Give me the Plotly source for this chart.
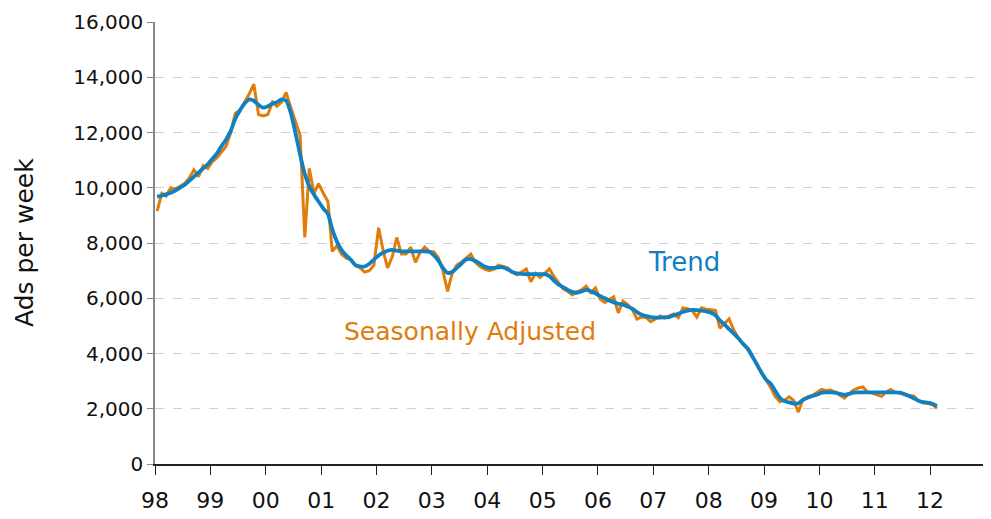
import pandas as pd
import plotly.graph_objects as go

# Monthly, Jan 1998 .. Feb 2012
seasonally_adjusted = [
    9150, 9800, 9700, 10000, 9950, 10050, 10150, 10350, 10650, 10400, 10800, 10700,
    10950, 11100, 11300, 11500, 12000, 12700, 12800, 13100, 13400, 13750, 12650, 12600,
    12650, 13100, 12950, 13100, 13450, 12900, 12400, 11900, 8200, 10700, 9800, 10150,
    9800, 9500, 7700, 7900, 7600, 7450, 7400, 7200, 7100, 6950, 7000, 7200,
    8550, 7700, 7100, 7500, 8200, 7600, 7600, 7850, 7300, 7650, 7850, 7700,
    7680, 7450, 7000, 6250, 6900, 7200, 7300, 7450, 7600, 7300, 7150, 7050,
    7000, 7050, 7200, 7150, 7100, 6950, 6850, 6950, 7060, 6600, 6900, 6750,
    6900, 7060, 6800, 6550, 6350, 6250, 6120, 6230, 6300, 6440, 6200, 6370,
    5970, 5850, 5950, 6050, 5470, 5900, 5780, 5600, 5250, 5320, 5300, 5150,
    5250, 5360, 5280, 5350, 5430, 5300, 5650, 5620, 5550, 5320, 5650, 5600,
    5570, 5560, 4920, 5100, 5250, 4850, 4560, 4350, 4150, 3870, 3600, 3300,
    3040, 2750, 2450, 2250, 2300, 2430, 2300, 1880, 2350, 2430, 2480, 2600,
    2700, 2650, 2680, 2600, 2500, 2390, 2550, 2680, 2750, 2790, 2600, 2570,
    2500, 2450, 2600, 2700, 2600, 2570, 2530, 2480, 2460, 2300, 2220, 2200,
    2150, 2030,
]

trend = [
    9680, 9720, 9760, 9820, 9900, 10000, 10100, 10250, 10400, 10550, 10700, 10850,
    11050, 11250, 11500, 11750, 12050, 12500, 12800, 13050, 13200, 13150, 13000, 12900,
    12950, 13050, 13100, 13200, 13150, 12700, 12000, 11200, 10500, 10050, 9750, 9500,
    9250, 9050, 8500, 8050, 7750, 7550, 7400, 7200, 7150, 7150, 7250, 7400,
    7550, 7650, 7720, 7750, 7720, 7700, 7700, 7700, 7700, 7700, 7700, 7680,
    7550, 7350, 7100, 6920, 6950, 7100, 7250, 7400, 7420, 7350, 7250, 7150,
    7100, 7100, 7120, 7120, 7050, 6950, 6900, 6880, 6870, 6870, 6870, 6870,
    6870, 6800, 6650, 6500, 6400, 6300, 6230, 6200, 6250, 6300, 6250, 6180,
    6080, 6000, 5920, 5850, 5800, 5770, 5700, 5620, 5500, 5400, 5350, 5320,
    5300, 5300, 5310, 5320, 5380, 5440, 5500, 5550, 5580, 5570, 5550, 5520,
    5480, 5380, 5200, 5050, 4880, 4720, 4550, 4350, 4180, 3900, 3600, 3300,
    3050, 2900, 2650, 2400, 2280, 2230, 2190, 2200, 2320, 2400, 2460, 2510,
    2580, 2590, 2590, 2580, 2540, 2500, 2540, 2580, 2590, 2590, 2590, 2590,
    2590, 2590, 2590, 2590, 2590, 2580, 2530, 2460, 2380, 2290, 2240, 2220,
    2180, 2100,
]

year_ticks = [str(y) for y in range(1998, 2013)]
year_labels = ["98", "99", "00", "01", "02", "03", "04", "05", "06", "07",
               "08", "09", "10", "11", "12"]
y_ticks = [0, 2000, 4000, 6000, 8000, 10000, 12000, 14000, 16000]
y_labels = ["0", "2,000", "4,000", "6,000", "8,000", "10,000", "12,000", "14,000", "16,000"]

dates = pd.date_range("1998-01-01", periods=len(trend), freq="MS") + pd.Timedelta(days=14)
tick_dates = [f"{y}-01-01" for y in year_ticks]

ORANGE = "#E07C0A"
BLUE = "#0F80C1"
FONT = "DejaVu Sans"

fig = go.Figure()
fig.add_trace(go.Scatter(x=dates, y=seasonally_adjusted, mode="lines",
                         line=dict(color=ORANGE, width=3), name="Seasonally Adjusted",
                         showlegend=False))
fig.add_trace(go.Scatter(x=dates, y=trend, mode="lines",
                         line=dict(color=BLUE, width=3.8, shape="spline", smoothing=0.6),
                         name="Trend", showlegend=False))

fig.add_annotation(x="2007-07-20", y=7320, text="Trend", showarrow=False,
                   font=dict(family=FONT, size=26, color=BLUE))
fig.add_annotation(x="2003-09-10", y=4780, text="Seasonally Adjusted", showarrow=False,
                   font=dict(family=FONT, size=25, color=ORANGE))
fig.add_annotation(x=0, y=0.5, xref="paper", yref="paper", xanchor="center", yanchor="middle",
                   xshift=-131, text="Ads per week", textangle=-90, showarrow=False,
                   font=dict(family=FONT, size=25, color="#111"))

# page body has an 8px margin, so the figure is sized to fit the 991x519 window
fig.update_layout(
    width=983, height=511,
    margin=dict(l=147, r=1, t=14, b=55),
    paper_bgcolor="white", plot_bgcolor="white",
    font=dict(family=FONT, size=20, color="#111"),
)

fig.update_xaxes(
    type="date", range=["1998-01-01", "2013-01-30"], automargin=False,
    tickvals=tick_dates, ticktext=year_labels,
    showgrid=False, showline=True, linecolor="#222", linewidth=1.5,
    ticks="outside", ticklen=9, tickcolor="#222", tickwidth=1,
    ticklabelstandoff=7,
    tickfont=dict(family=FONT, size=22, color="#111"), zeroline=False,
)
fig.update_yaxes(
    range=[0, 16000], tickvals=y_ticks, ticktext=y_labels, automargin=False,
    showgrid=True, gridcolor="#C9D2DA", griddash="dash", gridwidth=1,
    showline=True, linecolor="#888", linewidth=1.5,
    ticks="outside", ticklen=6, tickcolor="#888",
    tickfont=dict(family=FONT, size=20, color="#111"), zeroline=False,
)

fig.write_html("out.html")
